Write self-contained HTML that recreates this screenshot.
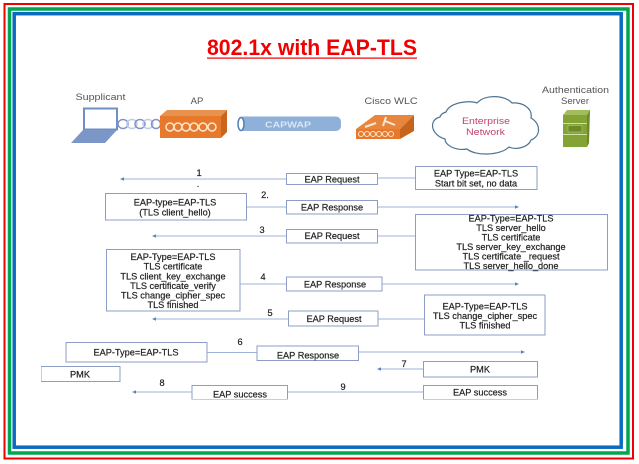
<!DOCTYPE html>
<html><head><meta charset="utf-8"><style>
html,body{margin:0;padding:0;background:#fff}
svg{display:block}
text{font-family:"Liberation Sans",sans-serif}
.t text{font-size:9.2px;fill:#222;text-anchor:middle;font-weight:400;stroke:#222;stroke-width:.2}
.b{fill:#fff;stroke:#8d9dc6;stroke-width:1}
.l{stroke:#9fb3da;stroke-width:1;fill:none}
.d{fill:#5b82c4}
.i text{fill:#555;font-size:9.5px;text-anchor:middle}
</style></head><body>
<svg width="639" height="464" viewBox="0 0 639 464" xmlns="http://www.w3.org/2000/svg">
<rect width="639" height="464" fill="#fff"/>
<rect x="4.500" y="4" width="628.500" height="454.500" fill="none" stroke="#f00000" stroke-width="2"/>
<rect x="9.500" y="9" width="618.500" height="444" fill="none" stroke="#00a650" stroke-width="3.500"/>
<rect x="14.200" y="13.700" width="607" height="433.500" fill="none" stroke="#0a6cc0" stroke-width="3.500"/>
<text x="207" y="55" font-size="22" font-weight="700" fill="#f00000" textLength="210" lengthAdjust="spacingAndGlyphs">802.1x with EAP-TLS</text>
<rect x="207" y="57.500" width="210" height="1.200" fill="#f00000"/>

<g filter="url(#s)">
<g class="i">
<text x="100.500" y="100" textLength="50" lengthAdjust="spacingAndGlyphs">Supplicant</text>
<text x="197" y="104">AP</text>
<text x="391" y="104" textLength="53" lengthAdjust="spacingAndGlyphs">Cisco WLC</text>
<text x="575.500" y="93" textLength="67" lengthAdjust="spacingAndGlyphs">Authentication</text>
<text x="575" y="104">Server</text>
</g>
<!-- laptop -->
<rect x="84" y="108.500" width="33" height="21" fill="#fff" stroke="#6f8fc7" stroke-width="2"/>
<polygon points="83,130 117,130 105,143 71,143" fill="#7b96c8"/>
<!-- coil -->
<g fill="none" stroke="#7f93c6" stroke-width="1.500">
<ellipse cx="123" cy="124" rx="5" ry="4.500"/><ellipse cx="132" cy="124" rx="5" ry="4.500" stroke="#c0c9e6"/>
<ellipse cx="140" cy="124" rx="5" ry="4.500"/><ellipse cx="148" cy="124" rx="5" ry="4.500" stroke="#c0c9e6"/>
<ellipse cx="156" cy="124" rx="4.500" ry="4.500"/>
</g>
<!-- AP -->
<polygon points="160,116 167,110 227,110 221,116" fill="#e8924f"/>
<polygon points="221,116 227,110 227,132 221,138" fill="#c9651f"/>
<rect x="160" y="116" width="61" height="22" fill="#e8792b"/>
<g fill="none" stroke="#fbe6d3" stroke-width="1.500">
<circle cx="170" cy="127" r="4"/><circle cx="178" cy="127" r="4"/><circle cx="186" cy="127" r="4"/><circle cx="194" cy="127" r="4"/><circle cx="203" cy="127" r="4"/><circle cx="212" cy="127" r="4"/>
</g>
<!-- capwap -->
<rect x="238" y="116.500" width="103" height="14.500" rx="5" fill="#8fb0d8"/>
<ellipse cx="241" cy="124" rx="3" ry="6.500" fill="#fff" stroke="#4f7fb5" stroke-width="1.500"/>
<text x="265" y="127.500" font-size="8.500" fill="#d9e6f4" font-weight="700" textLength="46" lengthAdjust="spacingAndGlyphs">CAPWAP</text>
<!-- WLC -->
<polygon points="356,129 375,115 414,115 400,129" fill="#e8863c"/>
<polygon points="400,129 414,115 414,131 400,139" fill="#c8641f"/>
<rect x="356" y="129" width="44" height="10" fill="#e8792b"/>
<g fill="none" stroke="#fbe6d3" stroke-width="1"><circle cx="361" cy="134" r="2.500"/><circle cx="367" cy="134" r="2.500"/><circle cx="373" cy="134" r="2.500"/><circle cx="379" cy="134" r="2.500"/><circle cx="385" cy="134" r="2.500"/><circle cx="391" cy="134" r="2.500"/></g>
<path d="M365,127 L376,123 M383,126 L386,117 M395,125 L385,121" stroke="#f6e7d8" stroke-width="2"/>
<!-- cloud -->
<path d="M446,112 C450,102 470,100 477,103 C485,94 505,95 512,103 C522,102 533,108 531,118 C541,124 541,136 531,140 C528,148 515,150 509,147 C500,156 475,156 467,149 C455,151 445,145 445,139 C431,135 428,120 440,117 C441,114 443,113 446,112 Z" fill="#fff" stroke="#4d7391" stroke-width="1.200"/>
<text x="462" y="124" font-size="9" fill="#c2436f" textLength="48" lengthAdjust="spacingAndGlyphs">Enterprise</text>
<text x="466" y="135" font-size="9" fill="#c2436f" textLength="39" lengthAdjust="spacingAndGlyphs">Network</text>
<!-- server -->
<polygon points="563,115 567,110 590,110 587,115" fill="#a3bd5b"/>
<polygon points="587,115 590,110 589,143 587,147" fill="#6d8a2a"/>
<rect x="563" y="115" width="24" height="32" fill="#84a336"/>
<rect x="563" y="123" width="24" height="1" fill="#d2dfa6"/><rect x="563" y="134" width="24" height="1" fill="#d2dfa6"/>
<rect x="568" y="125.500" width="14" height="6.500" fill="#6d8a2a" stroke="#b4c97c" stroke-width=".6"/>

<!-- connectors -->
<g class="l">
<path d="M122,179H286M378,178H415M244,207H286M378,207H517M154,236H286M378,236H415M240,284H286M382,284H517M154,319H288M378,319H424M207,352.500H257M358,352H523M379,369H423M134,392H192M288,392H423"/>
</g>
<g class="d">
<polygon points="120,179 124,177.300 124,180.700"/>
<polygon points="519,207 515,205.300 515,208.700"/>
<polygon points="152,236 156,234.300 156,237.700"/>
<polygon points="519,284 515,282.300 515,285.700"/>
<polygon points="152,319 156,317.300 156,320.700"/>
<polygon points="525,352 521,350.300 521,353.700"/>
<polygon points="377,369 381,367.300 381,370.700"/>
<polygon points="132,392 136,390.300 136,393.700"/>
</g>
<!-- boxes -->
<rect class="b" x="286.500" y="173.500" width="91" height="11"/>
<rect class="b" x="415.500" y="166.500" width="121.500" height="23"/>
<rect class="b" x="105.500" y="193.500" width="141" height="26.500"/>
<rect class="b" x="286.500" y="200.500" width="91" height="13.500"/>
<rect class="b" x="286.500" y="229.500" width="91" height="13.500"/>
<rect class="b" x="415.500" y="214.500" width="192" height="55.500"/>
<rect class="b" x="106.500" y="249.500" width="133.500" height="61.500"/>
<rect class="b" x="286.500" y="277" width="95.500" height="14"/>
<rect class="b" x="288.500" y="311" width="89.500" height="15"/>
<rect class="b" x="424.500" y="295" width="120.500" height="40"/>
<rect class="b" x="66" y="342.500" width="141" height="19.500"/>
<rect class="b" x="257" y="346" width="101.500" height="14.500"/>
<rect class="b" x="423.500" y="361.500" width="114" height="15.500"/>
<rect class="b" x="41" y="366.500" width="79" height="15"/>
<rect class="b" x="192" y="385.500" width="95.500" height="14"/>
<rect class="b" x="423.500" y="385.500" width="114" height="14"/>
<!-- texts -->
<g class="t">
<text x="332" y="182.500">EAP Request</text>
<text x="476" y="176.500">EAP Type=EAP-TLS</text>
<text x="476" y="186.500">Start bit set, no data</text>
<text x="175" y="205.500">EAP-type=EAP-TLS</text>
<text x="175" y="215.500">(TLS client_hello)</text>
<text x="332" y="210.500">EAP Response</text>
<text x="332" y="239">EAP Request</text>
<text x="511" y="221.500">EAP-Type=EAP-TLS</text>
<text x="511" y="231">TLS server_hello</text>
<text x="511" y="240.500">TLS certificate</text>
<text x="511" y="250">TLS server_key_exchange</text>
<text x="511" y="259.500">TLS certificate _request</text>
<text x="511" y="269">TLS server_hello_done</text>
<text x="173" y="260">EAP-Type=EAP-TLS</text>
<text x="173" y="269.500">TLS certificate</text>
<text x="173" y="279.500">TLS client_key_exchange</text>
<text x="173" y="289">TLS certificate_verify</text>
<text x="173" y="298.500">TLS change_cipher_spec</text>
<text x="173" y="308">TLS finished</text>
<text x="335" y="287.500">EAP Response</text>
<text x="334" y="322">EAP Request</text>
<text x="485" y="309.500">EAP-Type=EAP-TLS</text>
<text x="485" y="319">TLS change_cipher_spec</text>
<text x="485" y="328.500">TLS finished</text>
<text x="136" y="355.500">EAP-Type=EAP-TLS</text>
<text x="308" y="358.500">EAP Response</text>
<text x="480" y="372.500">PMK</text>
<text x="80" y="377.500">PMK</text>
<text x="240" y="397.500">EAP success</text>
<text x="480" y="395.500">EAP success</text>
<text x="199" y="176">1</text>
<text x="198" y="187">.</text>
<text x="265" y="198">2.</text>
<text x="262" y="233">3</text>
<text x="263" y="280">4</text>
<text x="270" y="316">5</text>
<text x="240" y="345">6</text>
<text x="404" y="367">7</text>
<text x="162" y="386">8</text>
<text x="343" y="390">9</text>
</g>
</g>
<defs><filter id="s" x="0" y="0" width="100%" height="100%"><feGaussianBlur stdDeviation="0.35"/></filter></defs>
</svg>
</body></html>
